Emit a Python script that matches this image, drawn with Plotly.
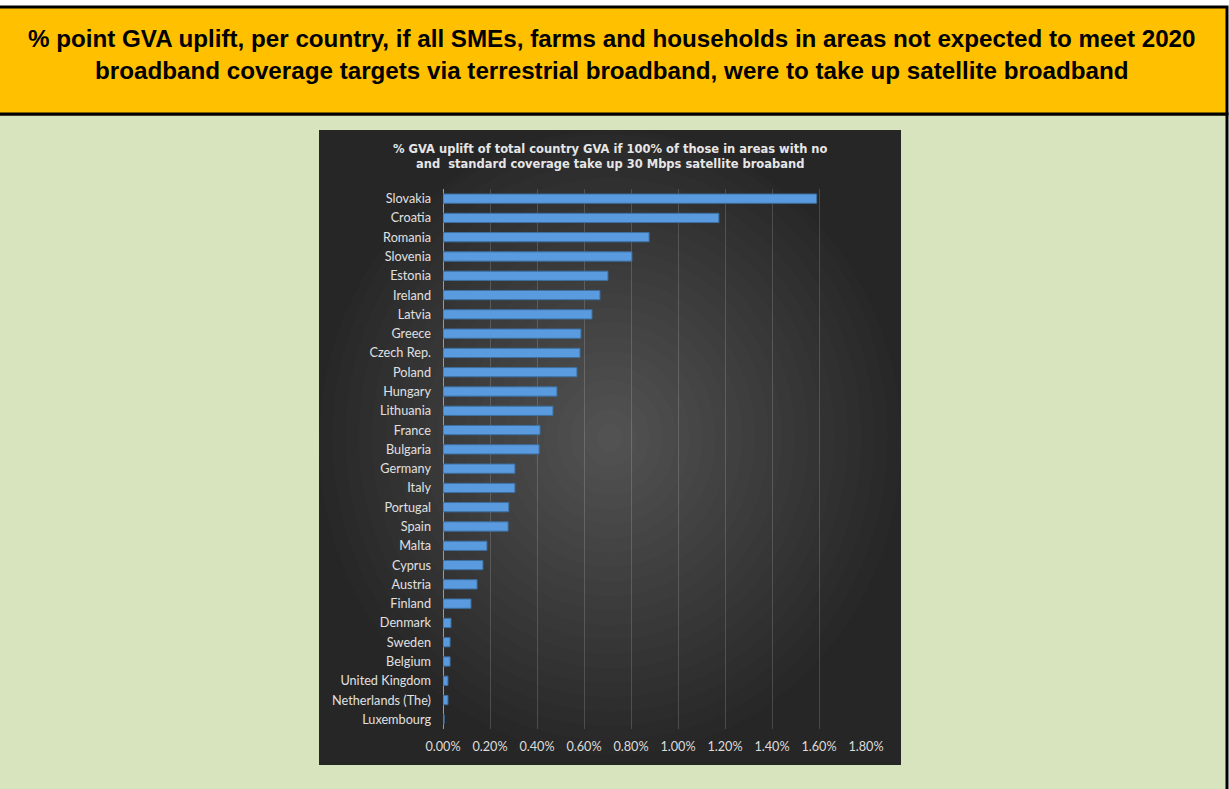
import plotly.graph_objects as go

W, H = 1229, 789

countries = ["Slovakia", "Croatia", "Romania", "Slovenia", "Estonia", "Ireland", "Latvia",
             "Greece", "Czech Rep.", "Poland", "Hungary", "Lithuania", "France", "Bulgaria",
             "Germany", "Italy", "Portugal", "Spain", "Malta", "Cyprus", "Austria", "Finland",
             "Denmark", "Sweden", "Belgium", "United Kingdom", "Netherlands (The)", "Luxembourg"]
uplift = [0.0159, 0.01174, 0.00877, 0.00804, 0.00702, 0.00668, 0.00634,
          0.00587, 0.00583, 0.0057, 0.00485, 0.00468, 0.00413, 0.00409,
          0.00306, 0.00306, 0.0028, 0.00277, 0.00187, 0.0017, 0.00145, 0.00119,
          0.00034, 0.0003, 0.0003, 0.00021, 0.00021, 0.00005]
tick_vals = [0, 0.002, 0.004, 0.006, 0.008, 0.010, 0.012, 0.014, 0.016, 0.018]

header_lines = ["% point GVA uplift, per country, if all SMEs, farms and households in areas not expected to meet 2020",
                "broadband coverage targets via terrestrial broadband, were to take up satellite broadband"]
chart_title = ("% GVA uplift of total country GVA if 100% of those in areas with no<br>"
               "and  standard coverage take up 30 Mbps satellite broaband")


def px(x):
    return x / W


def py(y):
    return 1 - y / H


shapes = []
# green panel
shapes.append(dict(type="rect", xref="paper", yref="paper", x0=px(-5), x1=px(1227), y0=py(800), y1=py(114),
                   fillcolor="#D7E4BD", line=dict(color="black", width=3), layer="below"))
# orange header
shapes.append(dict(type="rect", xref="paper", yref="paper", x0=px(-5), x1=px(1227), y0=py(114), y1=py(7),
                   fillcolor="#FFC000", line=dict(color="black", width=3), layer="below"))
# dark chart panel
cx0, cx1, cy0, cy1 = 319, 901, 130, 765
shapes.append(dict(type="rect", xref="paper", yref="paper", x0=px(cx0), x1=px(cx1), y0=py(cy1), y1=py(cy0),
                   fillcolor="#262626", line=dict(width=0), layer="below"))
# radial gradient approximation
ccx, ccy = (cx0 + cx1) / 2, (cy0 + cy1) / 2 - 10
N = 22
for i in range(N):
    f = 1 - i / N
    rx = (cx1 - cx0) / 2 * f
    ry = (cy1 - cy0) / 2 * f
    shapes.append(dict(type="circle", xref="paper", yref="paper",
                       x0=px(ccx - rx), x1=px(ccx + rx), y0=py(min(ccy + ry, cy1)), y1=py(max(ccy - ry, cy0)),
                       fillcolor="rgba(255,255,255,0.01)", line=dict(width=0), layer="below"))

annotations = []
for i, t in enumerate(header_lines):
    annotations.append(dict(text="<b>" + t + "</b>", xref="paper", yref="paper", x=px(612), y=py(38 + 32 * i),
                            xanchor="center", yanchor="middle", showarrow=False,
                            font=dict(family="Liberation Sans, Arial", size=24.2, color="black")))
annotations.append(dict(text="<b>" + chart_title + "</b>", xref="paper", yref="paper", x=px(610), y=py(156),
                        xanchor="center", yanchor="middle", showarrow=False, align="center",
                        font=dict(family="DejaVu Sans", size=11.5, color="#e6e6e6")))

fig = go.Figure(go.Bar(
    x=uplift, y=countries, orientation="h",
    marker=dict(color="#5A9BE0", line=dict(color="#3d6fa0", width=1)),
    hoverinfo="x+y"))

fig.update_layout(
    width=W, height=H, autosize=False,
    margin=dict(l=0, r=0, t=0, b=0, pad=0),
    paper_bgcolor="white", plot_bgcolor="rgba(0,0,0,0)",
    showlegend=False, bargap=0.52,
    shapes=shapes, annotations=annotations,
    xaxis=dict(domain=[px(443), px(866)], range=[0, 0.018], tickvals=tick_vals, tickformat=".2%",
               showgrid=True, gridcolor="rgba(255,255,255,0.16)", gridwidth=1,
               zeroline=True, zerolinecolor="#9a9a9a", zerolinewidth=1, automargin=False,
               tickfont=dict(family="Lato", size=12.7, color="#dcdcdc"), ticklabelstandoff=8,
               fixedrange=True),
    yaxis=dict(domain=[py(729), py(189)], autorange="reversed", categoryorder="array",
               categoryarray=countries, showgrid=False, zeroline=False, automargin=False,
               tickfont=dict(family="Lato", size=12.7, color="#e0e0e0"), ticklabelstandoff=11,
               fixedrange=True),
)

fig.write_html("out.html",
               post_script="document.body.style.margin='0';document.body.style.overflow='hidden';")
